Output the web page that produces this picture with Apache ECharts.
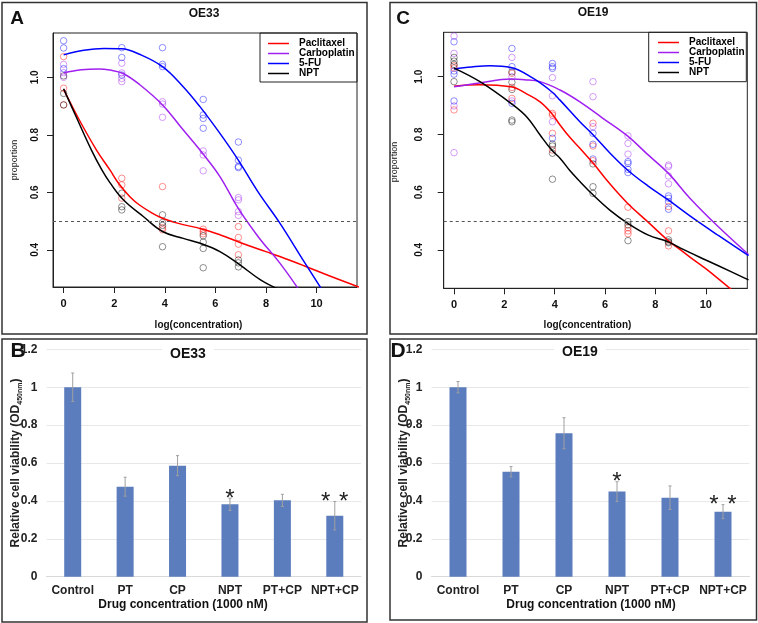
<!DOCTYPE html>
<html><head><meta charset="utf-8">
<script src="https://cdn.jsdelivr.net/npm/echarts@6/dist/echarts.min.js"></script>
<style>html,body{margin:0;padding:0;background:#fff}#c{width:758px;height:623px}</style>
</head><body><div id="c"></div>
<script>
// ---------------- DATA ----------------
const drugs = ['Paclitaxel', 'Carboplatin', '5-FU', 'NPT'];
const logConcOE33 = [0, 2.30, 3.91, 5.52, 6.91];
const logConcOE19 = [0, 2.30, 3.91, 5.52, 6.91, 8.52];
const xTicks = [0, 2, 4, 6, 8, 10];
const yTicks = [0.4, 0.6, 0.8, 1.0];

// OE33 replicate proportions, one inner list per concentration
const oe33Paclitaxel = [[1.072, 0.962, 0.904], [0.649, 0.626, 0.580], [0.620, 0.477, 0.470], [0.472, 0.464, 0.456], [0.481, 0.443, 0.420, 0.383]];
const oe33Carboplatin = [[1.045, 1.016, 1.000], [1.049, 1.015, 0.996, 0.985], [0.915, 0.907, 0.861], [0.744, 0.730, 0.675], [0.582, 0.574, 0.533, 0.520]];
const oe33FU = [[1.127, 1.102, 1.030], [1.103, 1.069, 1.008], [1.103, 1.045, 1.037], [0.923, 0.869, 0.857, 0.823], [0.775, 0.712, 0.690, 0.686]];
const oe33NPT = [[1.005, 0.944, 0.904], [0.597, 0.550, 0.539], [0.522, 0.495, 0.485, 0.411], [0.449, 0.427, 0.405, 0.338], [0.365, 0.355, 0.341]];

// OE33 fitted curves [logConc, proportion]
const oe33PaclitaxelFit = [[0, 0.958], [0.6, 0.855], [1.3, 0.747], [1.83, 0.678], [2.2, 0.628], [2.62, 0.585], [3, 0.556], [3.5, 0.528], [3.91, 0.51], [4.5, 0.493], [5.5, 0.472], [6.2, 0.452], [7, 0.425], [8, 0.394], [8.55, 0.377], [9.5, 0.345], [10.5, 0.31], [11.7, 0.27]];
const oe33CarboplatinFit = [[0, 1.015], [0.7, 1.026], [1.4, 1.029], [1.83, 1.025], [2.33, 1.014], [3, 0.975], [3.91, 0.904], [4.7, 0.82], [5.5, 0.735], [6.18, 0.655], [6.9, 0.545], [7.7, 0.445], [8.55, 0.354], [9.3, 0.262]];
const oe33FUFit = [[0, 1.078], [0.8, 1.094], [1.6, 1.10], [2.3, 1.099], [3, 1.08], [3.91, 1.037], [4.7, 0.97], [5.39, 0.898], [6.18, 0.805], [6.9, 0.713], [7.7, 0.60], [8.55, 0.493], [9.5, 0.36], [10.3, 0.25]];
const oe33NPTFit = [[0, 0.960], [0.5, 0.862], [1.1, 0.747], [1.5, 0.68], [1.83, 0.634], [2.36, 0.574], [3.15, 0.516], [3.91, 0.464], [4.73, 0.44], [5.4, 0.423], [6.18, 0.394], [6.97, 0.348], [7.8, 0.295], [8.55, 0.261]];

// OE19 replicate proportions
const oe19Paclitaxel = [[1.038, 1.030, 0.885], [1.012, 0.963, 0.925], [0.873, 0.867, 0.804, 0.746], [0.839, 0.760, 0.709], [0.548, 0.477, 0.466, 0.456], [0.550, 0.466, 0.414]];
const oe19Carboplatin = [[1.141, 1.081, 0.899, 0.737], [1.067, 1.000, 0.916], [0.997, 0.934, 0.844], [0.983, 0.931, 0.827], [0.795, 0.769, 0.732], [0.694, 0.689, 0.656, 0.629]];
const oe19FU = [[1.121, 1.020, 1.009, 0.916], [1.098, 1.035, 0.908], [1.046, 1.035, 1.029, 0.787], [0.804, 0.766, 0.715], [0.706, 0.700, 0.679, 0.668], [0.587, 0.579, 0.567, 0.541]];
const oe19NPT = [[1.067, 1.054, 1.043, 0.983], [1.017, 0.981, 0.956, 0.850, 0.844], [0.767, 0.760, 0.735, 0.645], [0.698, 0.619, 0.596], [0.498, 0.487, 0.432], [0.435, 0.428, 0.425]];

// OE19 fitted curves
const oe19PaclitaxelFit = [[0, 0.967], [1.0, 0.972], [2.26, 0.965], [2.9, 0.94], [3.42, 0.913], [3.88, 0.873], [4.21, 0.833], [4.6, 0.79], [5.0, 0.752], [5.53, 0.70], [6.2, 0.628], [6.89, 0.562], [7.7, 0.497], [8.51, 0.432], [9.0, 0.40], [9.37, 0.375], [10.0, 0.335], [10.9, 0.271], [11.2, 0.25]];
const oe19CarboplatinFit = [[0, 0.965], [1.0, 0.978], [2.26, 0.992], [2.8, 0.99], [3.42, 0.983], [4.21, 0.954], [5.0, 0.913], [5.9, 0.857], [6.89, 0.795], [7.7, 0.73], [8.51, 0.666], [9.37, 0.579], [10.5, 0.48], [11.7, 0.384]];
const oe19FUFit = [[0, 1.027], [0.7, 1.034], [1.43, 1.038], [2.26, 1.032], [3.15, 0.994], [3.88, 0.948], [4.21, 0.919], [5.0, 0.844], [5.53, 0.798], [6.2, 0.735], [6.89, 0.677], [7.7, 0.622], [8.51, 0.573], [9.37, 0.518], [10.5, 0.45], [11.7, 0.38]];
const oe19NPTFit = [[0, 1.03], [1.03, 0.983], [2.26, 0.908], [2.9, 0.86], [3.42, 0.798], [3.88, 0.746], [4.21, 0.718], [4.6, 0.675], [5.0, 0.637], [5.53, 0.59], [6.2, 0.537], [6.89, 0.493], [7.7, 0.452], [8.51, 0.428], [9.0, 0.406], [10.0, 0.365], [11.0, 0.325], [11.7, 0.296]];

const ic50Level = 0.5;

// Bar panels
const barCategories = ['Control', 'PT', 'CP', 'NPT', 'PT+CP', 'NPT+CP'];
const oe33Viability = [1.0, 0.475, 0.586, 0.382, 0.403, 0.322];
const oe33ViabilityErr = [0.075, 0.05, 0.053, 0.032, 0.032, 0.075];
const oe19Viability = [1.0, 0.554, 0.757, 0.449, 0.417, 0.343];
const oe19ViabilityErr = [0.03, 0.027, 0.082, 0.052, 0.062, 0.037];
const significanceStars = [0, 0, 0, 1, 0, 2];

// ---------------- STYLE ----------------
const lineColors = ['#FF0000', '#A020F0', '#0000FF', '#000000'];
const ptColors = ['rgba(255,0,0,0.55)', 'rgba(160,32,240,0.55)', 'rgba(0,0,255,0.55)', 'rgba(0,0,0,0.55)'];
const FONT = 'Liberation Sans, Arial, sans-serif';

function toPairs(xs, reps) {
  const out = [];
  reps.forEach((vals, i) => vals.forEach(v => out.push([xs[i], v])));
  return out;
}

function curveSeries(gi, xs, pts, fits) {
  const s = [];
  pts.forEach((p, k) => s.push({
    type: 'scatter', name: drugs[k] + ' obs', xAxisIndex: gi, yAxisIndex: gi,
    data: toPairs(xs, p), symbol: 'circle', symbolSize: 6.5,
    itemStyle: { color: 'transparent', borderColor: ptColors[k], borderWidth: 1 },
    silent: true, z: 2
  }));
  fits.forEach((f, k) => s.push({
    type: 'line', name: drugs[k], xAxisIndex: gi, yAxisIndex: gi, data: f,
    smooth: 0.4, showSymbol: false, symbol: 'none', clip: true,
    lineStyle: { color: lineColors[k], width: 1.5 }, itemStyle: { color: lineColors[k] },
    silent: true, z: 3,
    markLine: k === 0 ? { silent: true, symbol: 'none', label: { show: false },
      lineStyle: { color: '#555', type: [3, 3], width: 1 }, data: [{ yAxis: ic50Level }] } : undefined
  }));
  return s;
}

function barSeries(gi, vals, errs) {
  return [{
    type: 'bar', xAxisIndex: gi, yAxisIndex: gi, data: vals, barWidth: 17,
    itemStyle: { color: '#5b7cbd' }, silent: true, z: 2
  }, {
    type: 'custom', xAxisIndex: gi, yAxisIndex: gi, silent: true, z: 4,
    data: vals.map((v, i) => [i, v, errs[i], significanceStars[i]]),
    encode: { x: 0, y: 1 },
    renderItem: function (params, api) {
      const i = api.value(0), v = api.value(1), e = api.value(2), n = api.value(3);
      const top = api.coord([i, v + e]), bot = api.coord([i, v - e]);
      const st = { stroke: '#a0a0a0', lineWidth: 1 };
      const ch = [
        { type: 'line', shape: { x1: top[0], y1: top[1], x2: bot[0], y2: bot[1] }, style: st },
        { type: 'line', shape: { x1: top[0] - 1.5, y1: top[1], x2: top[0] + 1.5, y2: top[1] }, style: st },
        { type: 'line', shape: { x1: bot[0] - 1.5, y1: bot[1], x2: bot[0] + 1.5, y2: bot[1] }, style: st }
      ];
      for (let k = 0; k < n; k++) {
        const off = (k - (n - 1) / 2) * 18;
        ch.push({ type: 'text', x: top[0] + off, y: top[1] + 1,
          style: { text: '*', fontSize: 24, fontFamily: FONT, fill: '#222', align: 'center', verticalAlign: 'middle' } });
      }
      return { type: 'group', children: ch };
    }
  }];
}

function curveX(gi) {
  return {
    gridIndex: gi, type: 'value', min: gi === 0 ? -0.42 : -0.41, max: gi === 0 ? 11.6 : 11.65,
    axisLine: { show: true, onZero: false, lineStyle: { color: '#222', width: 1 } }, splitLine: { show: false },
    axisTick: { show: true, inside: false, length: 6, customValues: xTicks, lineStyle: { color: '#222', width: 1 } },
    axisLabel: { customValues: xTicks, margin: 11, fontSize: 11, fontWeight: 'bold', color: '#111', fontFamily: FONT }
  };
}
function curveY(gi, margin) {
  return {
    gridIndex: gi, type: 'value', min: gi === 0 ? 0.271 : 0.267, max: 1.154,
    axisLine: { show: true, onZero: false, lineStyle: { color: '#222', width: 1 } }, splitLine: { show: false },
    axisTick: { show: true, inside: false, length: 6, customValues: yTicks, lineStyle: { color: '#222', width: 1 } },
    axisLabel: { customValues: yTicks, rotate: 90, margin: margin, fontSize: 10, fontWeight: 'bold', color: '#111', fontFamily: FONT,
      formatter: v => v.toFixed(1) }
  };
}
function barX(gi) {
  return {
    gridIndex: gi, type: 'category', data: barCategories,
    axisLine: { show: true, onZero: false, lineStyle: { color: '#d9d9d9' } }, axisTick: { show: false },
    axisLabel: { interval: 0, margin: 8, fontSize: 12, fontWeight: 'bold', color: '#222', fontFamily: FONT }
  };
}
function barY(gi) {
  return {
    gridIndex: gi, type: 'value', min: 0, max: 1.2, interval: 0.2,
    axisLine: { show: false }, axisTick: { show: false },
    splitLine: { lineStyle: { color: '#e8e8e8', width: 1 } },
    axisLabel: { margin: 9, fontSize: 12, fontWeight: 'bold', color: '#222', fontFamily: FONT }
  };
}

function legendAt(left, top) {
  return {
    data: drugs, left: left, top: top, orient: 'vertical', icon: 'rect',
    itemWidth: 21, itemHeight: 1.5, itemGap: 0, padding: 0, selectedMode: false,
    textStyle: { fontSize: 10, fontWeight: 'bold', color: '#000', lineHeight: 9.5, fontFamily: FONT, padding: [0, 0, 0, 5] }
  };
}

function txt(x, y, text, font, extra) {
  return Object.assign({ type: 'text', x: x, y: y, silent: true,
    style: { text: text, font: font, fill: '#111', align: 'center', verticalAlign: 'middle' } }, extra || {});
}
function rect(x, y, w, h, stroke, lw) {
  return { type: 'rect', silent: true, shape: { x: x, y: y, width: w, height: h },
    style: { fill: 'none', stroke: stroke, lineWidth: lw } };
}
const yNameRich = {
  a: { fontSize: 12, fontWeight: 'bold', fontFamily: FONT, fill: '#222', lineHeight: 16, verticalAlign: 'middle' },
  s: { fontSize: 7, fontWeight: 'bold', fontFamily: FONT, fill: '#222', lineHeight: 8, verticalAlign: 'bottom' }
};
function yName(x, y) {
  return { type: 'text', x: x, y: y, rotation: Math.PI / 2, silent: true,
    style: { text: '{a|Relative cell viability (OD}{s|450nm}{a|)}', rich: yNameRich, align: 'center', verticalAlign: 'middle' } };
}
function barTitle(x, y, text) {
  return { type: 'text', x: x, y: y, silent: true, z: 10,
    style: { text: text, font: 'bold 14px ' + FONT, fill: '#111', align: 'center', verticalAlign: 'middle',
      backgroundColor: '#fff', padding: [2, 8] } };
}

const option = {
  animation: false,
  backgroundColor: '#fff',
  grid: [
    { left: 53, top: 33, width: 304, height: 254, show: true, borderColor: '#222', borderWidth: 1, backgroundColor: 'transparent' },
    { left: 443.7, top: 32.3, width: 303.6, height: 256, show: true, borderColor: '#222', borderWidth: 1, backgroundColor: 'transparent' },
    { left: 46.5, top: 349.3, width: 314.5, height: 227.4 },
    { left: 431.5, top: 349.3, width: 318, height: 227.4 }
  ],
  xAxis: [curveX(0), curveX(1), barX(2), barX(3)],
  yAxis: [curveY(0, 13), curveY(1, 19), barY(2), barY(3)],
  legend: [legendAt(268, 38.5), legendAt(658, 37.5)],
  series: [].concat(
    curveSeries(0, logConcOE33, [oe33Paclitaxel, oe33Carboplatin, oe33FU, oe33NPT],
      [oe33PaclitaxelFit, oe33CarboplatinFit, oe33FUFit, oe33NPTFit]),
    curveSeries(1, logConcOE19, [oe19Paclitaxel, oe19Carboplatin, oe19FU, oe19NPT],
      [oe19PaclitaxelFit, oe19CarboplatinFit, oe19FUFit, oe19NPTFit]),
    barSeries(2, oe33Viability, oe33ViabilityErr),
    barSeries(3, oe19Viability, oe19ViabilityErr)
  ),
  graphic: [
    rect(2, 2.5, 365, 331.5, '#333', 1.5),
    rect(390, 2.5, 366.5, 331.5, '#333', 1.5),
    rect(2, 339, 365, 283, '#333', 1.5),
    rect(390, 339, 366.5, 281, '#333', 1.5),
    rect(260, 33, 97, 49, '#222', 1),
    rect(648.7, 32.3, 97.6, 49.4, '#222', 1),
    txt(17, 19, 'A', 'bold 19px ' + FONT),
    txt(403, 19, 'C', 'bold 19px ' + FONT),
    txt(18, 351, 'B', 'bold 21px ' + FONT),
    txt(398, 351, 'D', 'bold 21px ' + FONT),
    txt(204, 14, 'OE33', 'bold 12px ' + FONT),
    txt(593, 13, 'OE19', 'bold 12px ' + FONT),
    barTitle(188, 354, 'OE33'),
    barTitle(580, 352, 'OE19'),
    txt(198.5, 325, 'log(concentration)', 'bold 10px ' + FONT),
    txt(587.5, 325, 'log(concentration)', 'bold 10px ' + FONT),
    Object.assign(txt(15, 160, 'proportion', '9px ' + FONT), { rotation: Math.PI / 2 }),
    Object.assign(txt(395, 162, 'proportion', '9px ' + FONT), { rotation: Math.PI / 2 }),
    txt(183, 605, 'Drug concentration (1000 nM)', 'bold 12px ' + FONT),
    txt(591, 605, 'Drug concentration (1000 nM)', 'bold 12px ' + FONT),
    yName(16, 463),
    yName(404, 463)
  ]
};

const chart = echarts.init(document.getElementById('c'), null, { renderer: 'canvas' });
chart.setOption(option);
</script></body></html>
